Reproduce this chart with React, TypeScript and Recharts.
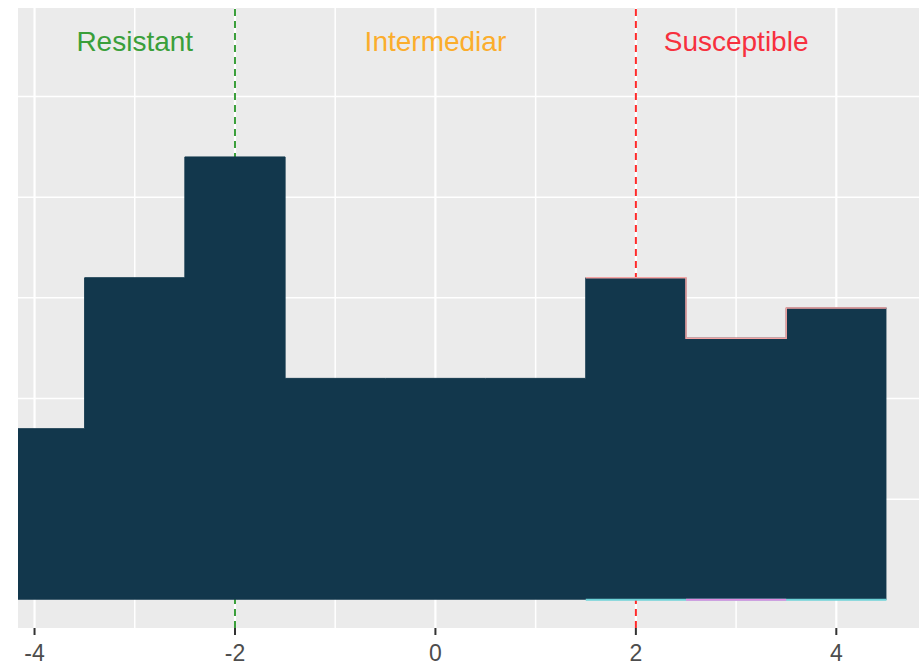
import {
  ComposedChart, Area, Line, Scatter, XAxis, YAxis, CartesianGrid,
} from "recharts";

// histogram bins (left edges, width 1) and counts
const binEdges = [-4.5, -3.5, -2.5, -1.5, -0.5, 0.5, 1.5, 2.5, 3.5, 4.5];
const counts = [17, 32, 44, 22, 22, 22, 32, 26, 29];

// thin coloured outlines on the susceptible bins
const suscEdges = [1.5, 2.5, 3.5, 4.5];
const suscTops = [32, 26, 29, 29];
const cyanEdges = [1.5, 4.5];
const pinkEdges = [2.5, 3.5];

// breakpoints, drawn as dashed vertical lines behind the bars
const cutoffX = [-2, 2];
const cutoffColors = ["#3a9f3a", "#ff2a2a"];
const yRange = [-2.8, 58.8];

const zoneNames = ["Resistant", "Intermediar", "Susceptible"];
const zoneX = [-3, 0, 3];
const zoneY = 55.5;
const zoneColors = ["#3a9f3a", "#fbad2c", "#f7303e"];

const xTicks = [-4, -2, 0, 2, 4];
const xMinor = [-3, -1, 1, 3];
const yLines = [10, 20, 30, 40, 50];

const histData = binEdges.map((x, i) => ({ x, y: counts[Math.min(i, counts.length - 1)] }));
const suscData = suscEdges.map((x, i) => ({ x, y: suscTops[i] }));
const cyanData = cyanEdges.map((x) => ({ x, y: 0 }));
const pinkData = pinkEdges.map((x) => ({ x, y: 0 }));
const cutoffData = cutoffX.map((x) => yRange.map((y) => ({ x, y })));
const zoneData = zoneNames.map((name, i) => ({ x: zoneX[i], y: zoneY, name, color: zoneColors[i] }));

const FONT = "'Liberation Sans', Arial, sans-serif";

const Tick = ({ x, y, payload }: any) => (
  <text x={x} y={y} dy="0.71em" textAnchor="middle" fill="#4d4d4d" fontSize={23} fontFamily={FONT}>
    {payload.value}
  </text>
);

const ZoneLabel = ({ cx, cy, payload }: any) => (
  <text x={cx} y={cy} dy="0.35em" textAnchor="middle" fill={payload.color} fontSize={28} fontFamily={FONT}>
    {payload.name}
  </text>
);

export default function App() {
  return (
    <div style={{ position: "fixed", left: 0, top: 0, width: 919, height: 665, background: "#fff" }}>
      <ComposedChart width={919} height={665} margin={{ top: 8, right: 0, left: 18, bottom: 0 }}>
        <CartesianGrid
          fill="#ebebeb"
          stroke="#ffffff"
          strokeWidth={1.5}
          verticalValues={xMinor}
          horizontalValues={yLines}
        />
        <CartesianGrid stroke="#ffffff" strokeWidth={2.2} verticalValues={xTicks} horizontal={false} />
        <XAxis
          dataKey="x"
          type="number"
          domain={[-4.165, 4.825]}
          allowDataOverflow
          ticks={xTicks}
          axisLine={false}
          tickLine={{ stroke: "#333333", strokeWidth: 2 }}
          tickSize={7}
          tickMargin={10}
          height={37}
          tick={<Tick />}
        />
        <YAxis type="number" dataKey="y" domain={yRange} hide allowDataOverflow />
        {cutoffData.map((d, i) => (
          <Line
            key={i}
            data={d}
            dataKey="y"
            stroke={cutoffColors[i]}
            strokeWidth={2}
            strokeDasharray="7 5"
            dot={false}
            zIndex={50}
            isAnimationActive={false}
          />
        ))}
        <Area
          data={histData}
          dataKey="y"
          type="stepAfter"
          baseValue={0}
          fill="#12374c"
          fillOpacity={1}
          stroke="#12374c"
          strokeWidth={1}
          zIndex={100}
          isAnimationActive={false}
        />
        <Line data={suscData} dataKey="y" type="stepAfter" stroke="#f4a3a3" strokeWidth={1.5} dot={false} isAnimationActive={false} />
        <Line data={cyanData} dataKey="y" stroke="#6fd3d8" strokeWidth={2} dot={false} isAnimationActive={false} />
        <Line data={pinkData} dataKey="y" stroke="#e08ee0" strokeWidth={2} dot={false} isAnimationActive={false} />
        <Scatter data={zoneData} dataKey="y" shape={<ZoneLabel />} isAnimationActive={false} />
      </ComposedChart>
    </div>
  );
}
